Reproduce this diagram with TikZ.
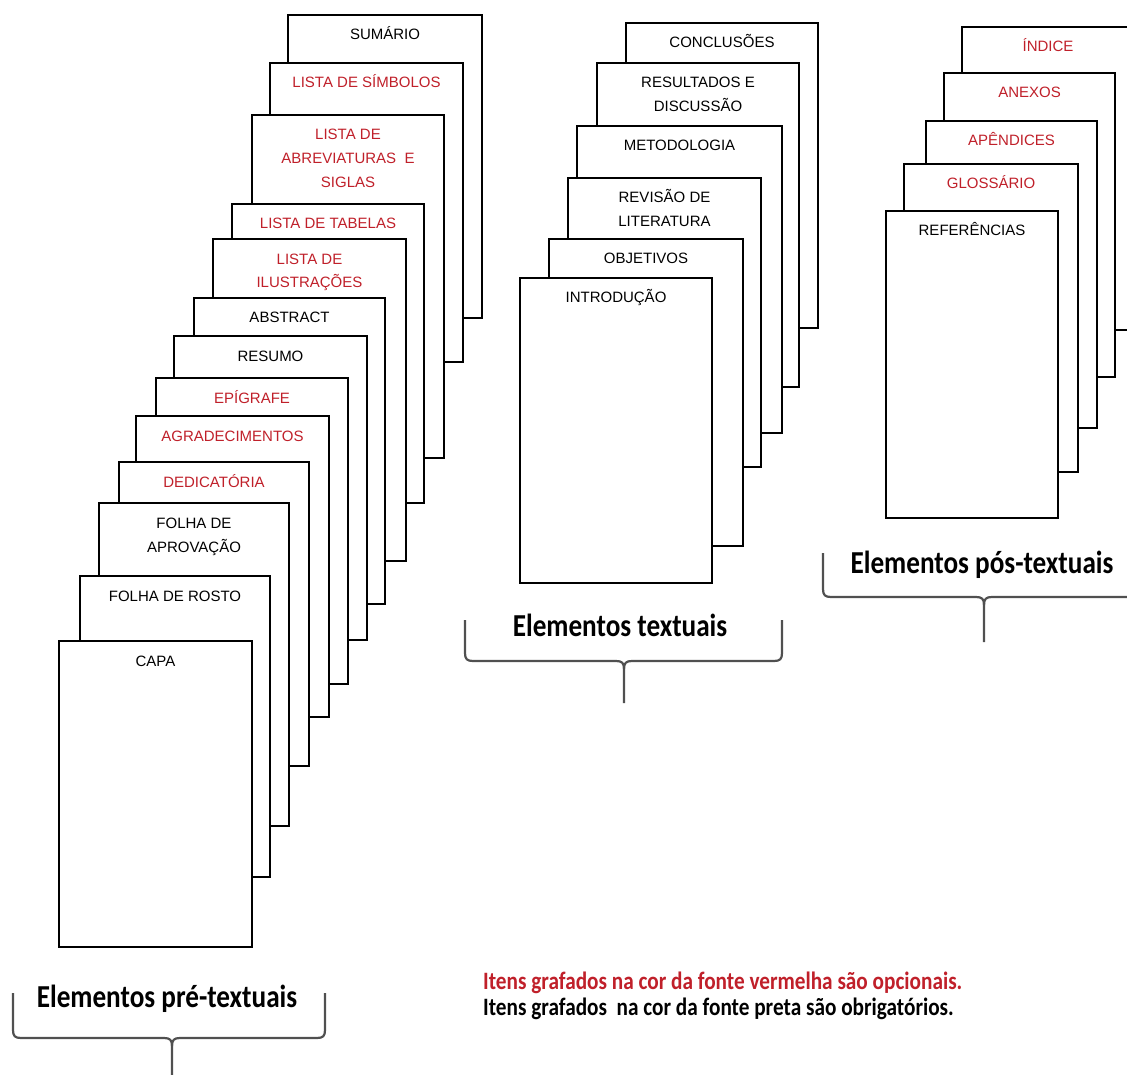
\documentclass[tikz,border=0pt]{standalone}
\usepackage{fontspec}
\newfontfamily\pgfnt{Liberation Sans}
\newfontfamily\lblfnt{Carlito}[FakeStretch=0.85]
\definecolor{optred}{RGB}{192,32,42}
\definecolor{brcgray}{RGB}{80,80,80}
\tikzset{
  pg/.style={draw=black, line width=2pt, fill=white, inner sep=0pt, outer sep=0pt, anchor=north west},
  pgtext/.style={anchor=north, inner sep=0pt, align=center, font=\fontsize{15}{24}\selectfont\pgfnt},
  brc/.style={draw=brcgray, line width=2.2pt},
  grouplbl/.style={anchor=base, inner sep=0pt, font=\fontsize{32}{38}\selectfont\lblfnt\bfseries},
  notetext/.style={anchor=base west, inner sep=0pt, font=\fontsize{25}{30}\selectfont\lblfnt\bfseries},
}
% name, left, top, right, bottom, colour, text
\newcommand\sheet[7]{%
  \node[pg, minimum width={(#4-#2)*1pt}, minimum height={(#5-#3)*1pt}] (#1) at (#2,#3) {};
  \node[pgtext, text=#6] (#1-t) at ([yshift=-8pt]#1.north) {\strut #7};
}
% left, right, centre, horizontal y, top of ends, bottom of tip
\newcommand\curly[6]{%
  \draw[brc] ({#1},{#5}) -- ({#1},{#4-8}) .. controls ({#1},{#4-2}) and ({#1+2},{#4}) .. ({#1+8},{#4})
    -- ({#3-8},{#4}) .. controls ({#3-2},{#4}) and ({#3},{#4+2}) .. ({#3},{#4+8}) -- ({#3},{#6});
  \draw[brc] ({#3},{#4+8}) .. controls ({#3},{#4+2}) and ({#3+2},{#4}) .. ({#3+8},{#4})
    -- ({#2-8},{#4}) .. controls ({#2-2},{#4}) and ({#2},{#4-2}) .. ({#2},{#4-8}) -- ({#2},{#5});
}
\begin{document}
\begin{tikzpicture}[x=1pt, y=-1pt]
\useasboundingbox (0,0) rectangle (1127,1075);
\clip (0,0) rectangle (1127,1075);
\fill[white] (0,0) rectangle (1127,1075);

% pre-textual stack (back to front)
\sheet{sumario}{288}{15}{482}{318}{black}{SUMÁRIO}
\sheet{simbolos}{270}{63}{463}{362}{optred}{LISTA DE SÍMBOLOS}
\sheet{abrev}{252}{115}{444}{458}{optred}{LISTA DE\\ABREVIATURAS\ \ E\\SIGLAS}
\sheet{tabelas}{232}{204}{424}{503}{optred}{LISTA DE TABELAS}
\sheet{ilustr}{213}{239}{406}{561}{optred}{LISTA DE\\ILUSTRAÇÕES}
\sheet{abstract}{194}{298}{385}{604}{black}{ABSTRACT}
\sheet{resumo}{174}{336}{367}{640}{black}{RESUMO}
\sheet{epigrafe}{156}{378}{348}{684}{optred}{EPÍGRAFE}
\sheet{agrad}{136}{416}{329}{717}{optred}{AGRADECIMENTOS}
\sheet{dedic}{119}{462}{309}{766}{optred}{DEDICATÓRIA}
\sheet{aprov}{99}{503}{289}{826}{black}{FOLHA DE\\APROVAÇÃO}
\sheet{rosto}{80}{576}{270}{877}{black}{FOLHA DE ROSTO}
\sheet{capa}{59}{641}{252}{947}{black}{CAPA}

% textual stack
\sheet{concl}{626}{23}{818}{328}{black}{CONCLUSÕES}
\sheet{result}{597}{63}{799}{387}{black}{RESULTADOS E\\DISCUSSÃO}
\sheet{metod}{577}{126}{782}{433}{black}{METODOLOGIA}
\sheet{revisao}{568}{178}{761}{467}{black}{REVISÃO DE\\LITERATURA}
\sheet{objet}{549}{239}{743}{546}{black}{OBJETIVOS}
\sheet{intro}{520}{278}{712}{583}{black}{INTRODUÇÃO}

% post-textual stack
\sheet{indice}{962}{27}{1134}{330}{optred}{ÍNDICE}
\sheet{anexos}{944}{73}{1115}{377}{optred}{ANEXOS}
\sheet{apend}{926}{121}{1097}{428}{optred}{APÊNDICES}
\sheet{gloss}{904}{164}{1078}{472}{optred}{GLOSSÁRIO}
\sheet{refer}{886}{211}{1058}{518}{black}{REFERÊNCIAS}

% braces
\curly{13}{325}{172}{1038}{993}{1080}
\curly{465}{782}{624}{661}{620}{703}
\curly{823}{1145}{984}{597}{553}{642}

% group labels
\node[grouplbl] (lpre) at (167,1007) {Elementos pré-textuais};
\node[grouplbl] (ltext) at (620,636) {Elementos textuais};
\node[grouplbl] (lpos) at (982,573) {Elementos pós-textuais};

% legend
\node[notetext, text=optred] (nred) at (483,989) {Itens grafados na cor da fonte vermelha são opcionais.};
\node[notetext, text=black] (nblack) at (483,1015) {Itens grafados\ \ na cor da fonte preta são obrigatórios.};
\end{tikzpicture}
\end{document}
